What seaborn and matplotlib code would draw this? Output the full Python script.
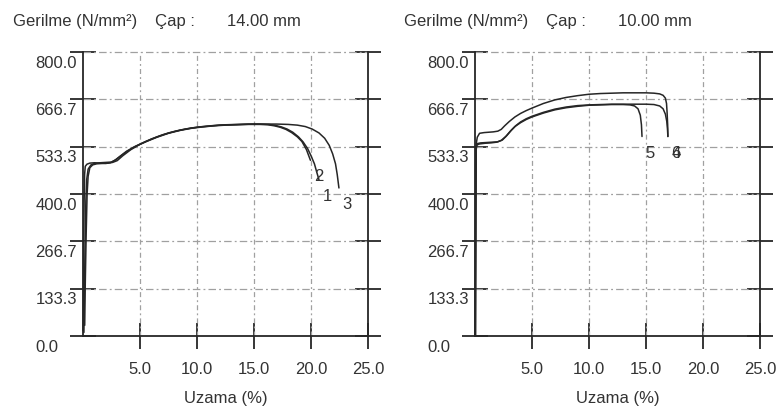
import matplotlib
matplotlib.use("Agg")
import matplotlib.pyplot as plt
import matplotlib.transforms as mtransforms
import pandas as pd
import seaborn as sns

# ---------------- data ----------------
stress_ticks = [0.0, 133.3, 266.7, 400.0, 533.3, 666.7, 800.0]
stress_tick_labels = ["0.0", "133.3", "266.7", "400.0", "533.3", "666.7", "800.0"]
strain_ticks = [5.0, 10.0, 15.0, 20.0, 25.0]
strain_tick_labels = ["5.0", "10.0", "15.0", "20.0", "25.0"]
grid_x = [5.0, 10.0, 15.0, 20.0]

stress_title = "Gerilme (N/mm²)"
diameter_title = "Çap :"
diameters = ["14.00 mm", "10.00 mm"]
strain_label = "Uzama (%)"

# specimens tested at 14.00 mm diameter
s1_x = [0.00, 0.03, 0.06, 0.10, 0.14, 0.20, 0.35, 0.60, 1.00, 1.50, 2.00, 2.40, 2.80,
        3.20, 3.80, 4.50, 5.50, 6.50, 7.50, 8.50, 9.50, 10.5, 11.5, 12.5, 13.5, 14.5,
        15.5, 16.3, 16.9, 17.4, 17.9, 18.4, 18.9, 19.3, 19.7, 20.0, 20.3, 20.5, 20.7]
s1_y = [15, 120, 260, 380, 455, 478, 484, 487, 488, 487, 486, 488, 495,
        505, 520, 533, 548, 561, 572, 580, 586, 590, 593, 595, 596, 597,
        597, 596, 593, 589, 583, 574, 561, 547, 528, 508, 485, 462, 440]

s2_x = [0.08, 0.12, 0.18, 0.25, 0.32, 0.45, 0.70, 1.00, 1.50, 2.00, 2.50, 2.90, 3.30,
        3.90, 4.60, 5.50, 6.50, 7.50, 8.50, 9.50, 10.5, 11.5, 12.5, 13.5, 14.5, 15.5,
        16.2, 16.8, 17.3, 17.8, 18.3, 18.8, 19.2, 19.6, 19.95]
s2_y = [10, 110, 250, 380, 440, 470, 482, 486, 488, 489, 490, 497, 507,
        521, 534, 547, 560, 571, 579, 585, 589, 592, 594, 595, 596, 596,
        595, 592, 588, 582, 573, 561, 548, 525, 495]

s3_x = [0.15, 0.20, 0.28, 0.36, 0.45, 0.60, 0.85, 1.20, 1.70, 2.20, 2.60, 3.00, 3.50,
        4.20, 5.00, 6.00, 7.00, 8.00, 9.00, 10.0, 11.0, 12.0, 13.0, 14.0, 15.0, 16.0,
        17.0, 18.0, 18.8, 19.5, 20.1, 20.7, 21.2, 21.6, 21.9, 22.15, 22.3, 22.45]
s3_y = [30, 150, 290, 400, 450, 474, 482, 485, 486, 487, 489, 494, 508,
        525, 540, 555, 567, 576, 583, 588, 591, 594, 595, 596, 597, 597,
        597, 596, 594, 590, 583, 572, 557, 537, 513, 485, 455, 417]

# specimens tested at 10.00 mm diameter
s4_x = [0.00, 0.02, 0.04, 0.06, 0.10, 0.20, 0.40, 0.80, 1.20, 1.60, 2.00, 2.30, 2.60,
        3.00, 3.50, 4.00, 4.50, 5.00, 6.00, 7.00, 8.00, 9.00, 10.0, 11.0, 12.0, 13.0,
        14.0, 15.0, 15.7, 16.2, 16.5, 16.7, 16.8, 16.85, 16.9, 16.92]
s4_y = [0, 150, 330, 480, 540, 560, 571, 573, 574, 575, 577, 582, 592,
        604, 617, 627, 635, 642, 655, 665, 672, 677, 681, 683, 684, 685,
        685, 685, 684, 682, 678, 670, 655, 630, 595, 562]

s5_x = [0.03, 0.05, 0.07, 0.09, 0.15, 0.40, 0.90, 1.40, 1.90, 2.30, 2.70, 3.10, 3.50,
        4.00, 4.50, 5.00, 6.00, 7.00, 8.00, 9.00, 10.0, 11.0, 12.0, 13.0, 13.6, 14.0,
        14.3, 14.5, 14.6, 14.65]
s5_y = [0, 180, 380, 520, 538, 541, 543, 544, 546, 551, 562, 577, 590,
        601, 610, 617, 628, 637, 643, 647, 650, 651, 652, 652, 651, 648,
        640, 622, 595, 562]

s6_x = [0.05, 0.07, 0.09, 0.11, 0.20, 0.50, 1.00, 1.50, 2.00, 2.40, 2.80, 3.20, 3.60,
        4.00, 4.50, 5.00, 6.00, 7.00, 8.00, 9.00, 10.0, 11.0, 12.0, 13.0, 14.0, 15.0,
        15.7, 16.2, 16.5, 16.7, 16.82, 16.88, 16.92]
s6_y = [0, 200, 400, 530, 542, 544, 545, 546, 547, 552, 565, 580, 593,
        603, 612, 619, 630, 639, 645, 649, 651, 652, 653, 653, 653, 653,
        652, 648, 640, 625, 605, 585, 562]

panel_specimens = [
    [("1", s1_x, s1_y), ("2", s2_x, s2_y), ("3", s3_x, s3_y)],
    [("4", s4_x, s4_y), ("5", s5_x, s5_y), ("6", s6_x, s6_y)],
]

# ---------------- style ----------------
sns.set_style("white")
plt.rcParams["font.family"] = ["Liberation Sans", "DejaVu Sans"]
plt.rcParams["font.size"] = 12

INK = "#262626"
GRID = "#a0a0a0"
TEXT = "#333333"
DPI = 100
W, H = 782, 417

fig = plt.figure(figsize=(W / DPI, H / DPI), dpi=DPI)

# axes rectangles in pixels: left, right, top(800), bottom(0)
panel_px = [(83, 368, 52, 336), (475, 760, 52, 336)]
title_px = [(13, 155, 227), (404, 546, 618)]

grid_dash = (0, (6, 2.5, 1.5, 2.5))
vgrid_dash = (0, (4, 2.5, 1.5, 2.5))
tick_len = 18.7


def px_offset(dx, dy):
    return mtransforms.ScaledTranslation(dx / DPI, -dy / DPI, fig.dpi_scale_trans)


for (x0, x1, ytop, ybot), specimens, (tx0, tx1, tx2), diameter in zip(
        panel_px, panel_specimens, title_px, diameters):
    ax = fig.add_axes([x0 / W, 1 - ybot / H, (x1 - x0) / W, (ybot - ytop) / H])
    ax.set_xlim(0, 25)
    ax.set_ylim(0, 800)

    # grid
    for v in stress_ticks[1:]:
        ax.axhline(v, color=GRID, lw=0.9, ls=grid_dash, clip_on=False, zorder=1)
    for v in grid_x:
        ax.axvline(v, color=GRID, lw=0.9, ls=vgrid_dash, clip_on=False, zorder=1)

    # curves
    for name, xs, ys in specimens:
        df = pd.DataFrame({"strain": xs, "stress": ys})
        sns.lineplot(data=df, x="strain", y="stress", sort=False, estimator=None,
                     ax=ax, color=INK, lw=1.1, zorder=3)
        ax.lines[-1].set_clip_on(False)
        ax.annotate(name, xy=(xs[-1], ys[-1]), xytext=(6, -12),
                    textcoords="offset points", ha="center", va="center",
                    fontsize=12, color=TEXT)

    # spines
    for side in ("left", "right", "bottom"):
        ax.spines[side].set_visible(True)
        ax.spines[side].set_color(INK)
        ax.spines[side].set_linewidth(1.3)
        ax.spines[side].set_zorder(4)
    ax.spines["top"].set_visible(False)

    # ticks
    ax.set_xticks(strain_ticks)
    ax.set_xticklabels(strain_tick_labels)
    ax.set_yticks(stress_ticks)
    ax.set_yticklabels([])
    ax.tick_params(axis="y", direction="inout", length=tick_len, width=1.3,
                   color=INK, left=True, right=True, labelleft=False)
    ax.tick_params(axis="x", direction="inout", length=tick_len, width=1.3,
                   color=INK, bottom=True, top=False, pad=9.5, labelsize=12,
                   labelcolor=TEXT)

    # stress labels sit just below their grid line
    ytrans = ax.get_yaxis_transform()
    for v, lab in zip(stress_ticks, stress_tick_labels):
        dx = -25 if v == 0 else -6
        ax.text(0, v, lab, transform=ytrans + px_offset(dx, 11),
                ha="right", va="center", fontsize=12, color=TEXT)

    ax.set_xlabel(strain_label, fontsize=12, color=TEXT, va="center")
    ax.xaxis.set_label_coords(0.5, -(399 - ybot) / (ybot - ytop))
    ax.set_ylabel("")

    # header line
    ty = 1 - 26 / H
    fig.text(tx0 / W, ty, stress_title, fontsize=12, color=TEXT, va="baseline")
    fig.text(tx1 / W, ty, diameter_title, fontsize=12, color=TEXT, va="baseline")
    fig.text(tx2 / W, ty, diameter, fontsize=12, color=TEXT, va="baseline")

fig.savefig("out.png", dpi=DPI)
